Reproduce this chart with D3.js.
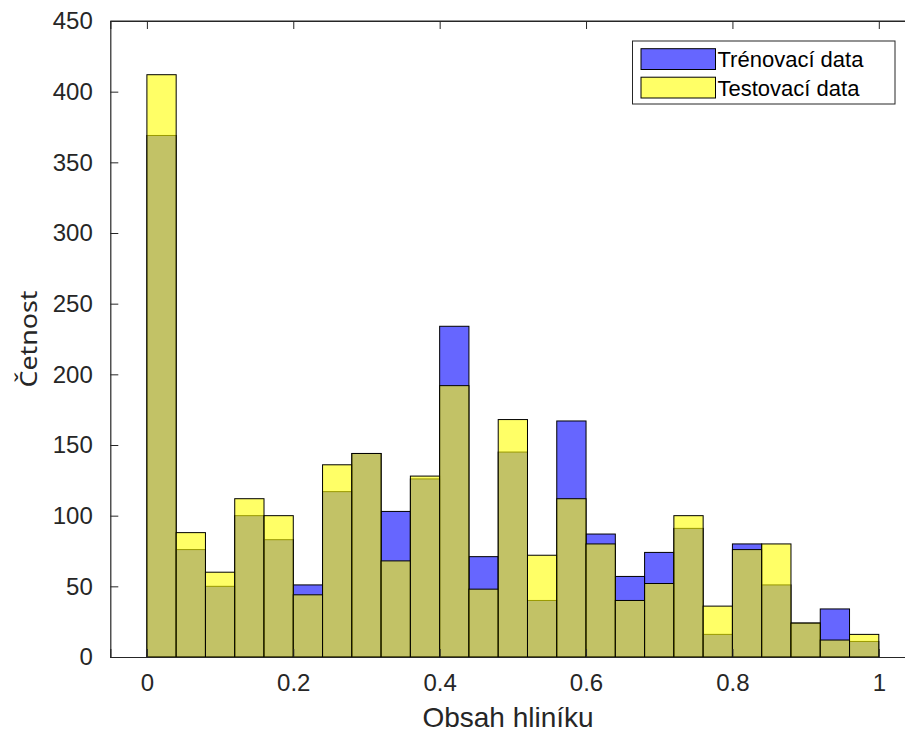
<!DOCTYPE html>
<html><head><meta charset="utf-8">
<script src="https://cdn.jsdelivr.net/npm/d3@7"></script>
<style>body{margin:0;background:#fff;overflow:hidden}text{font-family:"Liberation Sans",Arial,sans-serif}</style>
</head><body><svg id="c" width="905" height="731"></svg>
<script>
const binEdges = [0,0.04,0.08,0.12,0.16,0.2,0.24,0.28,0.32,0.36,0.4,0.44,0.48,0.52,0.56,0.6,0.64,0.68,0.72,0.76,0.8,0.84,0.88,0.92,0.96,1.0];
const trainCounts = [369,76,50,100,83,51,117,144,103,126,234,71,145,40,167,87,57,74,91,16,80,51,24,34,11];
const testCounts  = [412,88,60,112,100,44,136,144,68,128,192,48,168,72,112,80,40,52,100,36,76,80,24,12,16];
const seriesNames = ["Trénovací data","Testovací data"];
const seriesColors = ["#0000ff","#ffff00"];
const xTicks = [0,0.2,0.4,0.6,0.8,1];
const yTicks = [0,50,100,150,200,250,300,350,400,450];

const svg = d3.select("#c");
const x = d3.scaleLinear().domain([-0.05,1.05]).range([110.3,915.4]);
const y = d3.scaleLinear().domain([0,450]).range([657,21]);
const axisColor = "#262626";

const series = [trainCounts, testCounts];
series.forEach((counts,si)=>{
  svg.append("g").selectAll("rect").data(counts).join("rect")
    .attr("x",(d,i)=>x(binEdges[i]))
    .attr("width",(d,i)=>x(binEdges[i+1])-x(binEdges[i]))
    .attr("y",d=>y(d))
    .attr("height",d=>y(0)-y(d))
    .attr("fill",seriesColors[si]).attr("fill-opacity",0.6)
    .attr("stroke","#000").attr("stroke-width",1);
});

// axes
const gx = svg.append("g").attr("transform",`translate(0,${y(0)})`)
  .call(d3.axisBottom(x).tickValues(xTicks).tickSize(-8).tickPadding(17).tickFormat(d=>d===0?"0":(d===1?"1":d3.format(".1f")(d))));
const gxt = svg.append("g").attr("transform",`translate(0,${y(450)})`)
  .call(d3.axisTop(x).tickValues(xTicks).tickSize(-8).tickFormat(""));
const gy = svg.append("g").attr("transform",`translate(${x(-0.05)},0)`)
  .call(d3.axisLeft(y).tickValues(yTicks).tickSize(-8).tickPadding(17.5));
[gx,gxt,gy].forEach(g=>{
  g.select(".domain").attr("stroke",axisColor).attr("stroke-width",1.2);
  g.selectAll(".tick line").attr("stroke",axisColor).attr("stroke-width",1);
  g.selectAll(".tick text").attr("fill","#262626").attr("font-size",24).style("font-family","Liberation Sans, Arial, sans-serif");
});
svg.append("line").attr("x1",x(-0.05)).attr("x2",905).attr("y1",y(450)).attr("y2",y(450)).attr("stroke",axisColor).attr("stroke-width",1.2);

svg.append("text").attr("x",508).attr("y",726.5).attr("text-anchor","middle")
  .attr("font-size",28).attr("fill","#262626").text("Obsah hliníku");
svg.append("text").attr("transform",`translate(37,${(y(0)+y(450))/2}) rotate(-90)`).attr("text-anchor","middle")
  .style("font-family","Noto Sans, Open Sans, sans-serif")
  .attr("font-size",24).attr("textLength",97).attr("lengthAdjust","spacingAndGlyphs")
  .attr("fill","#262626").text("Četnost");

// legend
const lg = svg.append("g");
lg.append("rect").attr("x",632.5).attr("y",41).attr("width",262.5).attr("height",63)
  .attr("fill","#fff").attr("stroke",axisColor).attr("stroke-width",1);
seriesNames.forEach((n,i)=>{
  const yy = 48.7 + i*28.5;
  lg.append("rect").attr("x",641).attr("y",yy).attr("width",74.5).attr("height",20.8)
    .attr("fill",seriesColors[i]).attr("fill-opacity",0.6).attr("stroke","#000").attr("stroke-width",1);
  lg.append("text").attr("x",717.5).attr("y",yy+18.6).attr("font-size",22).attr("fill","#000").text(n);
});
</script></body></html>
